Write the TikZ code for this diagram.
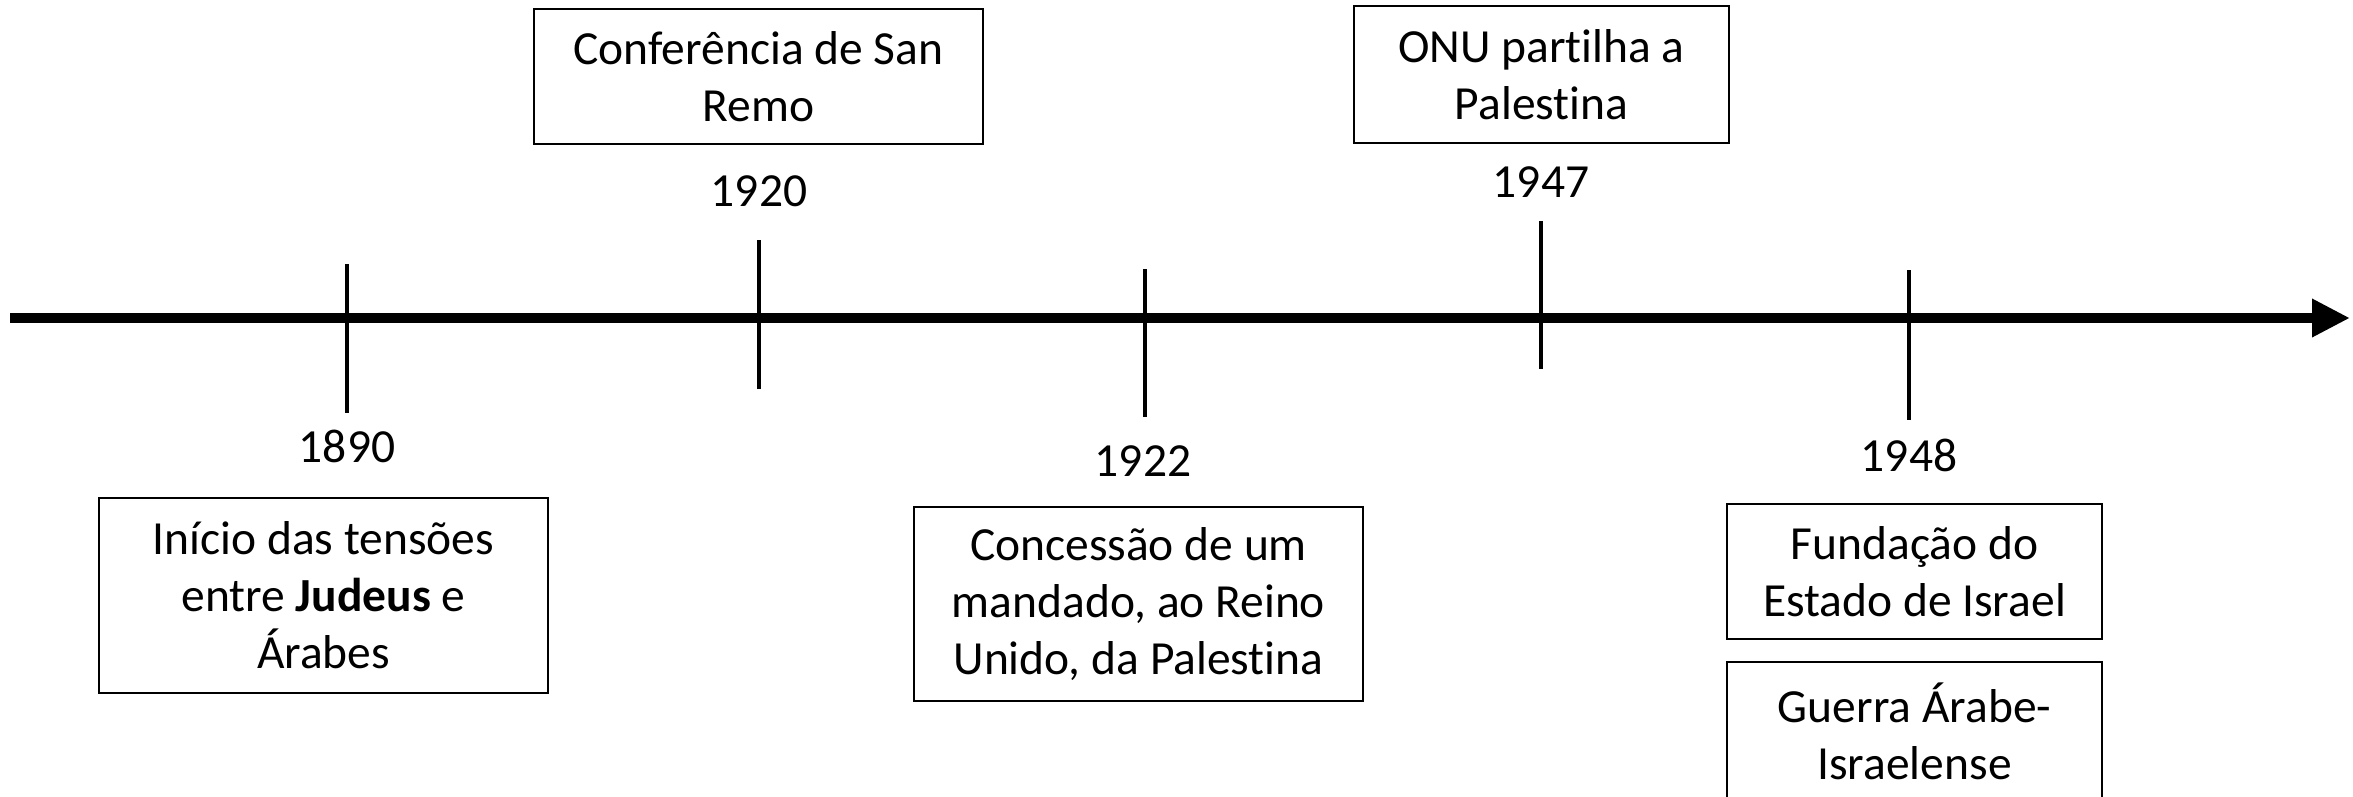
\documentclass[tikz,border=0pt]{standalone}
\usepackage{fontspec}
\setmainfont{Carlito}[Ligatures=NoCommon]
\usetikzlibrary{arrows.meta}
\begin{document}
\begin{tikzpicture}[x=1pt,y=-1pt,
  evbox/.style={draw, line width=2.5pt, align=center, inner sep=0pt,
    minimum width=449pt, font=\fontsize{47.5}{57}\selectfont},
  yearlbl/.style={inner sep=0pt, font=\fontsize{47.5}{57}\selectfont},
  tickline/.style={line width=4.5pt},
  axisline/.style={line width=9.5pt, -{Triangle[length=38pt,width=36pt]}}
]
\useasboundingbox (0,0) rectangle (2353,796);

% axis
\coordinate (axs) at (10,318);
\coordinate (axe) at (2350,318);
\draw[axisline] (axs) -- (axe);

% ticks
\coordinate (t1a) at (347,264); \coordinate (t1b) at (347,413);
\coordinate (t2a) at (759,240); \coordinate (t2b) at (759,389);
\coordinate (t3a) at (1145,269); \coordinate (t3b) at (1145,417);
\coordinate (t4a) at (1541,221); \coordinate (t4b) at (1541,369);
\coordinate (t5a) at (1909,270); \coordinate (t5b) at (1909,420);
\draw[tickline] (t1a) -- (t1b);
\draw[tickline] (t2a) -- (t2b);
\draw[tickline] (t3a) -- (t3b);
\draw[tickline] (t4a) -- (t4b);
\draw[tickline] (t5a) -- (t5b);

% year labels
\node[yearlbl] (y1890) at (347,446) {1890};
\node[yearlbl] (y1920) at (759,191) {1920};
\node[yearlbl] (y1922) at (1143,461) {1922};
\node[yearlbl] (y1947) at (1541,182) {1947};
\node[yearlbl] (y1948) at (1909,455) {1948};

% boxes
\node[evbox, minimum height=195pt] (b1890) at (323.5,595.5)
  {Início das tensões\\entre \textbf{Judeus} e\\Árabes};
\node[evbox, minimum height=135pt] (b1920) at (758.5,76.5)
  {Conferência de San\\Remo};
\node[evbox, minimum height=194pt] (b1922) at (1138.5,604)
  {Concessão de um\\mandado, ao Reino\\Unido, da Palestina};
\node[evbox, minimum width=375pt, minimum height=137pt] (b1947) at (1541.5,74.5)
  {ONU partilha a\\Palestina};
\node[evbox, minimum width=375pt, minimum height=135pt] (b1948a) at (1914.5,571.5)
  {Fundação do\\Estado de Israel};
\node[evbox, minimum width=375pt, minimum height=138pt] (b1948b) at (1914.5,731)
  {Guerra Árabe-\\Israelense};
\end{tikzpicture}
\end{document}
